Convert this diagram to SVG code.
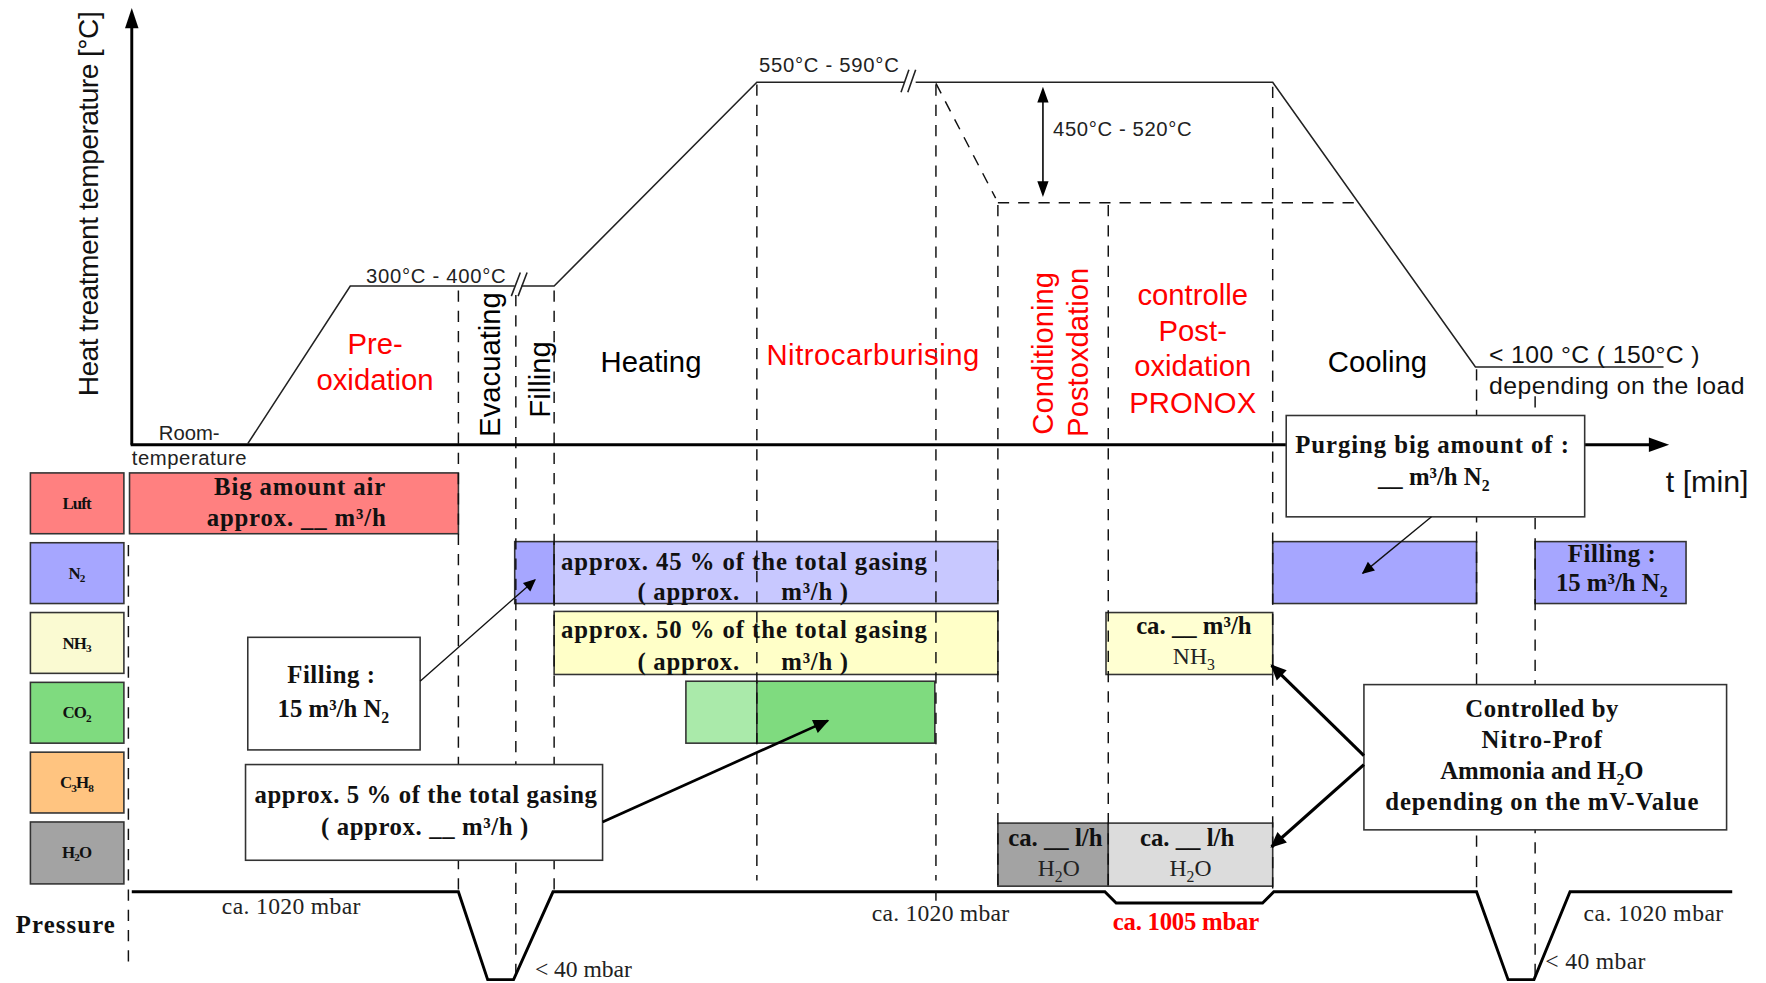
<svg xmlns="http://www.w3.org/2000/svg" width="1766" height="983" viewBox="0 0 1766 983">
<defs>
<marker id="ah" viewBox="0 0 10 10" refX="9" refY="5" markerWidth="13" markerHeight="11" markerUnits="userSpaceOnUse" orient="auto"><path d="M0,0.5 L10,5 L0,9.5 z" fill="#000"/></marker>
<marker id="ahb" viewBox="0 0 10 10" refX="9" refY="5" markerWidth="17" markerHeight="14" markerUnits="userSpaceOnUse" orient="auto"><path d="M0,0.5 L10,5 L0,9.5 z" fill="#000"/></marker>
</defs>
<style>
.sans{font-family:"Liberation Sans",Arial,sans-serif;fill:#111}
.lbl{font-family:"Liberation Sans",Arial,sans-serif;font-size:26px;fill:#000}
.sm{font-family:"Liberation Sans",Arial,sans-serif;font-size:18px;fill:#222}
.bt{font-family:"Liberation Serif","Times New Roman",serif;font-weight:bold;font-size:22px;fill:#111}
.rt{font-family:"Liberation Serif","Times New Roman",serif;font-size:21px;fill:#222}
.lg{font-family:"Liberation Serif","Times New Roman",serif;font-weight:bold;font-size:15px;fill:#111;letter-spacing:-0.8px}
.red{fill:#ff0000}
.dash{stroke:#111;stroke-width:1.3;stroke-dasharray:10 8;fill:none}
.box{stroke:#333;stroke-width:1.4}
.curve{stroke:#222;stroke-width:1.4;fill:none}
.thick{stroke:#000;stroke-width:2.6;fill:none}
.wb{fill:#fff;stroke:#333;stroke-width:1.4}
</style>
<rect width="1766" height="983" fill="#fff"/>
<g transform="scale(1.12628,1.126)">

<!-- legend -->
<g id="legend-luft"><rect class="box" x="27" y="420" width="83" height="54" fill="#ff8080"/><text class="lg" x="68" y="452" text-anchor="middle">Luft</text></g>
<g id="legend-n2"><rect class="box" x="27" y="482" width="83" height="54" fill="#a6a6ff"/><text class="lg" x="68" y="514" text-anchor="middle">N<tspan font-size="10" dy="3">2</tspan></text></g>
<g id="legend-nh3"><rect class="box" x="27" y="544" width="83" height="54" fill="#fafad2"/><text class="lg" x="68" y="576" text-anchor="middle">NH<tspan font-size="10" dy="3">3</tspan></text></g>
<g id="legend-co2"><rect class="box" x="27" y="606" width="83" height="54" fill="#7fdb7f"/><text class="lg" x="68" y="638" text-anchor="middle">CO<tspan font-size="10" dy="3">2</tspan></text></g>
<g id="legend-c3h8"><rect class="box" x="27" y="668" width="83" height="54" fill="#ffc480"/><text class="lg" x="68" y="700" text-anchor="middle">C<tspan font-size="10" dy="3">3</tspan><tspan dy="-3">H</tspan><tspan font-size="10" dy="3">8</tspan></text></g>
<g id="legend-h2o"><rect class="box" x="27" y="730" width="83" height="55" fill="#a3a3a3"/><text class="lg" x="68" y="762" text-anchor="middle">H<tspan font-size="10" dy="3">2</tspan><tspan dy="-3">O</tspan></text></g>

<!-- colored bars -->
<g id="bar-luft"><rect class="box" x="115" y="420" width="292" height="54" fill="#ff8080"/>
<text class="bt" x="266" y="440" text-anchor="middle" textLength="152">Big amount air</text>
<text class="bt" x="263" y="467" text-anchor="middle" textLength="159">approx. __ m³/h</text></g>
<g id="bar-n2-fill"><rect class="box" x="457" y="481" width="35" height="55" fill="#a6a6ff"/></g>
<g id="bar-n2"><rect class="box" x="492" y="481" width="394" height="55" fill="#c8c8ff"/>
<text class="bt" x="498" y="506" textLength="325">approx. 45 % of the total gasing</text>
<text class="bt" x="566" y="533" textLength="187">( approx.&#160;&#160;&#160;&#160;&#160; m³/h )</text></g>
<g id="bar-nh3"><rect class="box" x="492" y="543" width="394" height="56" fill="#ffffc8"/>
<text class="bt" x="498" y="567" textLength="325">approx. 50 % of the total gasing</text>
<text class="bt" x="566" y="595" textLength="187">( approx.&#160;&#160;&#160;&#160;&#160; m³/h )</text></g>
<g id="bar-co2"><rect class="box" x="609" y="605" width="63" height="55" fill="#aaeaaa"/><rect class="box" x="672" y="605" width="158" height="55" fill="#7fdb7f"/></g>
<g id="bar-h2o-cond"><rect class="box" x="886" y="731" width="98" height="56" fill="#a3a3a3"/>
<text class="bt" x="937" y="751" text-anchor="middle">ca. __ l/h</text>
<text class="rt" x="940" y="778" text-anchor="middle">H<tspan font-size="14" dy="5">2</tspan><tspan dy="-5">O</tspan></text></g>
<g id="bar-h2o-post"><rect class="box" x="984" y="731" width="146" height="56" fill="#dcdcdc"/>
<text class="bt" x="1054" y="751" text-anchor="middle">ca. __ l/h</text>
<text class="rt" x="1057" y="778" text-anchor="middle">H<tspan font-size="14" dy="5">2</tspan><tspan dy="-5">O</tspan></text></g>
<g id="bar-nh3-post"><rect class="box" x="982" y="544" width="148" height="55" fill="#ffffd2"/>
<text class="bt" x="1060" y="563" text-anchor="middle">ca. __ m³/h</text>
<text class="rt" x="1060" y="590" text-anchor="middle">NH<tspan font-size="14" dy="5">3</tspan></text></g>
<g id="bar-n2-cool"><rect class="box" x="1130" y="481" width="181" height="55" fill="#a6a6ff"/></g>
<g id="bar-n2-refill"><rect class="box" x="1363" y="481" width="134" height="55" fill="#a6a6ff"/>
<text class="bt" x="1431" y="499" text-anchor="middle" textLength="78">Filling :</text>
<text class="bt" x="1431" y="525" text-anchor="middle">15 m³/h N<tspan font-size="14" dy="5">2</tspan></text></g>

<!-- dashed phase lines -->
<g id="phase-lines">
<line class="dash" x1="114" y1="484" x2="114" y2="860"/>
<line class="dash" x1="407" y1="258" x2="407" y2="792"/>
<line class="dash" x1="458" y1="262" x2="458" y2="870"/>
<line class="dash" x1="492" y1="258" x2="492" y2="792"/>
<line class="dash" x1="672" y1="75" x2="672" y2="782"/>
<line class="dash" x1="831" y1="75" x2="831" y2="782"/>
<line class="dash" x1="886" y1="182" x2="886" y2="790"/>
<line class="dash" x1="984" y1="182" x2="984" y2="790"/>
<line class="dash" x1="1130" y1="77" x2="1130" y2="790"/>
<line class="dash" x1="1311" y1="328" x2="1311" y2="792"/>
<line class="dash" x1="1363" y1="352" x2="1363" y2="870"/>
<line class="dash" x1="886" y1="180" x2="1208" y2="180"/>
<line class="dash" x1="831" y1="74" x2="884" y2="176"/>
</g>

<!-- axes -->
<g id="axes">
<line class="thick" x1="117" y1="22" x2="117" y2="395"/>
<path d="M117,7 L111,25 L123,25 z" fill="#000"/>
<line class="thick" x1="116" y1="395" x2="1466" y2="395"/>
<path d="M1482,395 L1464,388.5 L1464,401.5 z" fill="#000"/>
<text class="sans" font-size="25" transform="translate(87,352) rotate(-90)" textLength="342">Heat treatment temperature [°C]</text>
<text class="sans" font-size="27" x="1479" y="437">t [min]</text>
</g>

<!-- temperature curve -->
<g id="temperature-curve">
<path class="curve" d="M220,394 L311,254 L457,254 M463,254 L492,254 L672,73 L803,73 M813,73 L1130,73 L1310,326 L1477,326"/>
<path class="curve" d="M454,263 L462,242 M460,263 L468,242"/>
<path class="curve" d="M800,82 L807,62 M806,82 L813,62"/>
<line x1="926" y1="88" x2="926" y2="164" stroke="#000" stroke-width="1.4"/>
<path d="M926,77 L921,91 L931,91 z M926,175 L921,161 L931,161 z" fill="#000"/>
<text class="sm" x="325" y="251" textLength="124">300°C - 400°C</text>
<text class="sm" x="674" y="64" textLength="124">550°C - 590°C</text>
<text class="sm" x="935" y="121" textLength="123">450°C - 520°C</text>
<text class="sans" font-size="22" x="1322" y="322" textLength="187">&lt; 100 °C ( 150°C )</text>
<text class="sans" font-size="22" x="1322" y="350" textLength="227">depending on the load</text>
<text class="sm" x="141" y="391">Room-</text>
<text class="sm" x="117" y="413" textLength="102">temperature</text>
</g>

<!-- phase labels -->
<g id="phase-labels">
<text class="lbl red" x="333" y="314" text-anchor="middle">Pre-</text>
<text class="lbl red" x="333" y="346" text-anchor="middle">oxidation</text>
<text class="lbl" transform="translate(444,388) rotate(-90)">Evacuating</text>
<text class="lbl" transform="translate(488,371) rotate(-90)">Filling</text>
<text class="lbl" x="578" y="330" text-anchor="middle">Heating</text>
<text class="lbl red" x="775" y="324" text-anchor="middle" textLength="189">Nitrocarburising</text>
<text class="lbl red" transform="translate(935,386) rotate(-90)">Conditioning</text>
<text class="lbl red" transform="translate(966,388) rotate(-90)">Postoxdation</text>
<text class="lbl red" x="1059" y="271" text-anchor="middle">controlle</text>
<text class="lbl red" x="1059" y="303" text-anchor="middle">Post-</text>
<text class="lbl red" x="1059" y="334" text-anchor="middle">oxidation</text>
<text class="lbl red" x="1059" y="367" text-anchor="middle">PRONOX</text>
<text class="lbl" x="1223" y="330" text-anchor="middle">Cooling</text>
</g>

<!-- pressure -->
<g id="pressure">
<path class="thick" d="M117,792 L407,792 L433,870 L456,870 L491,792 L981,792 L991,802 L1121,802 L1131,792 L1311,792 L1339,870 L1362,870 L1394,792 L1538,792"/>
<line x1="831" y1="792" x2="831" y2="800" stroke="#111" stroke-width="1.3"/>
<text class="bt" x="14" y="829" textLength="88">Pressure</text>
<text class="rt" x="197" y="812" textLength="123">ca. 1020 mbar</text>
<text class="rt" x="475" y="868" textLength="86">&lt; 40 mbar</text>
<text class="rt" x="774" y="818" textLength="122">ca. 1020 mbar</text>
<text class="bt" x="988" y="826" textLength="130" fill="#ff0000" style="fill:#ff0000">ca. 1005 mbar</text>
<text class="rt" x="1406" y="818" textLength="124">ca. 1020 mbar</text>
<text class="rt" x="1372" y="861" textLength="89">&lt; 40 mbar</text>
</g>

<!-- annotation boxes -->
<g id="note-filling"><rect class="wb" x="220" y="566" width="153" height="100"/>
<text class="bt" x="294" y="607" text-anchor="middle" textLength="78">Filling :</text>
<text class="bt" x="296" y="637" text-anchor="middle">15 m³/h N<tspan font-size="14" dy="5">2</tspan></text></g>
<g id="note-c3h8"><rect class="wb" x="218" y="679" width="317" height="85"/>
<text class="bt" x="226" y="713" textLength="304">approx. 5 % of the total gasing</text>
<text class="bt" x="285" y="742" textLength="184">( approx. __ m³/h )</text></g>
<g id="note-purging"><rect class="wb" x="1142" y="369" width="265" height="90"/>
<text class="bt" x="1150" y="402" textLength="243">Purging big amount of :</text>
<text class="bt" x="1273" y="431" text-anchor="middle">__ m³/h N<tspan font-size="14" dy="5">2</tspan></text></g>
<g id="note-controlled"><rect class="wb" x="1211" y="608" width="322" height="129"/>
<text class="bt" x="1369" y="637" text-anchor="middle" textLength="136">Controlled by</text>
<text class="bt" x="1369" y="664" text-anchor="middle" textLength="107">Nitro-Prof</text>
<text class="bt" x="1369" y="692" text-anchor="middle">Ammonia and H<tspan font-size="14" dy="5">2</tspan><tspan dy="-5">O</tspan></text>
<text class="bt" x="1369" y="719" text-anchor="middle" textLength="278">depending on the mV-Value</text></g>

<!-- connectors -->
<g id="connectors">
<line x1="373" y1="605" x2="475" y2="515" stroke="#111" stroke-width="1.2" marker-end="url(#ah)"/>
<line x1="535" y1="730" x2="735" y2="640" stroke="#000" stroke-width="2.4" marker-end="url(#ahb)"/>
<line x1="1271" y1="459" x2="1210" y2="509" stroke="#111" stroke-width="1.2" marker-end="url(#ah)"/>
<line x1="1211" y1="671" x2="1129" y2="591" stroke="#000" stroke-width="2.8" marker-end="url(#ahb)"/>
<line x1="1211" y1="679" x2="1129" y2="752" stroke="#000" stroke-width="2.8" marker-end="url(#ahb)"/>
</g>
</g>
</svg>
